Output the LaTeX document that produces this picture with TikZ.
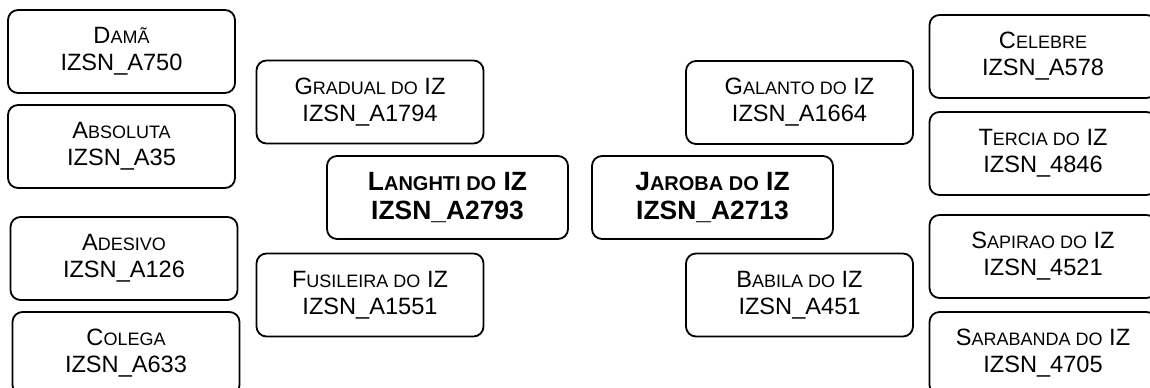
\documentclass[tikz,border=0pt]{standalone}
\usepackage{fontspec}
\setmainfont{Liberation Sans}

\newcommand{\smc}[1]{{\fontsize{9}{10}\selectfont #1}}
\newcommand{\smcb}[1]{{\fontsize{10}{11}\selectfont #1}}

\tikzset{
  box/.style={draw, line width=0.9pt, rounded corners=5pt, align=center,
    minimum width=113.5pt, minimum height=41.5pt, inner sep=0pt,
    font=\fontsize{11.8}{13.5}\selectfont},
  mainbox/.style={box, minimum width=120.5pt,
    font=\bfseries\fontsize{13.2}{14.5}\selectfont}
}

\begin{document}
\begin{tikzpicture}[x=0.5pt,y=-0.5pt]
\useasboundingbox (0,0) rectangle (1150,387);
\clip (0,0) rectangle (1150,387);

\node[box] (dama) at (121.5,51.5) {D\smc{AMÃ}\\IZSN\_A750};
\node[box] (absoluta) at (121.5,146.5) {A\smc{BSOLUTA}\\IZSN\_A35};
\node[box] (adesivo) at (124,258.5) {A\smc{DESIVO}\\IZSN\_A126};
\node[box] (colega) at (126,353.5) {C\smc{OLEGA}\\IZSN\_A633};

\node[box] (gradual) at (370,102) {G\smc{RADUAL DO} IZ\\IZSN\_A1794};
\node[mainbox] (langhti) at (447.5,197.5) {L\smcb{ANGHTI DO} IZ\\IZSN\_A2793};
\node[box] (fusileira) at (370,295) {F\smc{USILEIRA DO} IZ\\IZSN\_A1551};

\node[mainbox] (jaroba) at (712.5,197.5) {J\smcb{AROBA DO} IZ\\IZSN\_A2713};
\node[box] (galanto) at (799.5,102.5) {G\smc{ALANTO DO} IZ\\IZSN\_A1664};
\node[box] (babila) at (799.5,295) {B\smc{ABILA DO} IZ\\IZSN\_A451};

\node[box] (celebre) at (1043,56.5) {C\smc{ELEBRE}\\IZSN\_A578};
\node[box] (tercia) at (1043,153.5) {T\smc{ERCIA DO} IZ\\IZSN\_4846};
\node[box] (sapirao) at (1043,256.5) {S\smc{APIRAO DO} IZ\\IZSN\_4521};
\node[box] (sarabanda) at (1043,353.5) {S\smc{ARABANDA DO} IZ\\IZSN\_4705};
\end{tikzpicture}
\end{document}
